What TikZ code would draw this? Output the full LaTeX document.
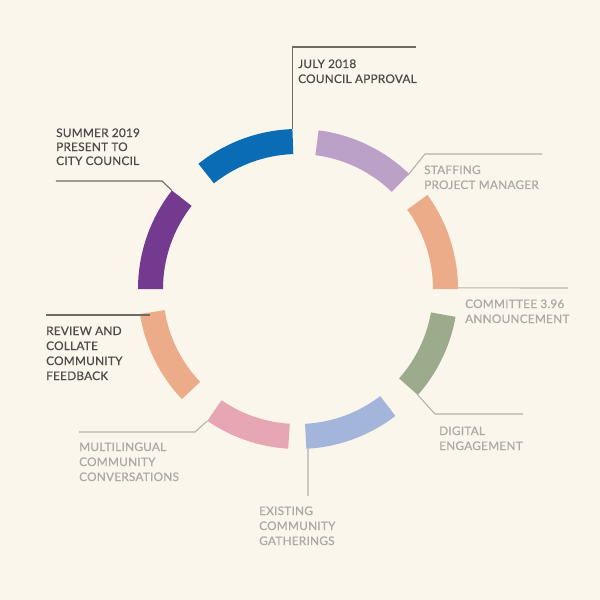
\documentclass[tikz,border=0pt]{standalone}
\usepackage{fontspec}
\setmainfont{Lato}[LetterSpace=2, FakeBold=0.6]
\usetikzlibrary{positioning}

\definecolor{bgcream}{HTML}{FAF6EC}
\definecolor{segBlue}{HTML}{0A6CB4}
\definecolor{segLilac}{HTML}{BBA0C7}
\definecolor{segOrange}{HTML}{ECAB89}
\definecolor{segGreen}{HTML}{9CAB8C}
\definecolor{segSky}{HTML}{A3B5DA}
\definecolor{segPink}{HTML}{E6A6B4}
\definecolor{segPurple}{HTML}{743A8F}
\definecolor{lineDark}{HTML}{6E6B64}
\definecolor{lineLight}{HTML}{B5B2AA}
\definecolor{textDark}{HTML}{4E4C48}
\definecolor{textLight}{HTML}{ACAAA4}

\tikzset{
  stage/.style={anchor=base west, inner sep=0pt, align=left,
    font=\fontsize{11.8}{15}\selectfont},
  done/.style={stage, text=textDark},
  todo/.style={stage, text=textLight},
  leaderDone/.style={draw=lineDark, line width=1.1pt},
  leaderTodo/.style={draw=lineLight, line width=1.1pt}
}

\begin{document}
\begin{tikzpicture}[x=1pt, y=1pt]
    % fondo
    \fill[bgcream] (-298,-311) rectangle (302,289);
    \useasboundingbox (-298,-311) rectangle (302,289);

    % segmentos
    \foreach \a/\b/\c in {46/82.6/segLilac, 92/128.5/segBlue, 142/180/segPurple,
                          189/223.5/segOrange, 235.5/266.5/segPink, 273/307.5/segSky,
                          318.5/350/segGreen, 0/36/segOrange}
      \fill[\c] (\a:160) arc[start angle=\a, end angle=\b, radius=160]
                -- (\b:135) arc[start angle=\b, end angle=\a, radius=135] -- cycle;

    % extremos
    \coordinate (july) at (92:160);
    \coordinate (staff) at (46:158);
    \coordinate (committee) at (0.4:160);
    \coordinate (digital) at (318.5:160);
    \coordinate (existing) at (273.6:160);
    \coordinate (multi) at (235.5:160);
    \coordinate (review) at (-148,-26);
    \coordinate (summer) at (142:160);

    % etiquetas (base de la ultima linea)
    \node [done] (julyText) at (0,206) {JULY 2018\\COUNCIL APPROVAL};
    \node [todo] (staffText) at (126,100) {STAFFING\\PROJECT MANAGER};
    \node [todo] (committeeText) at (167,-34) {COMMITTEE 3.96\\ANNOUNCEMENT};
    \node [todo] (digitalText) at (141,-161) {DIGITAL\\ENGAGEMENT};
    \node [todo] (existingText) at (-39,-256) {EXISTING\\COMMUNITY\\GATHERINGS};
    \node [todo] (multiText) at (-219,-192) {MULTILINGUAL\\COMMUNITY\\CONVERSATIONS};
    \node [done] (reviewText) at (-252,-91) {REVIEW AND\\COLLATE\\COMMUNITY\\FEEDBACK};
    \node [done, font=\fontsize{11.8}{14}\selectfont] (summerText) at (-242,124)
      {SUMMER 2019\\PRESENT TO\\CITY COUNCIL};

    % lineas
    \coordinate (julyTip) at (118,242);
    \coordinate (staffBend) at (127,135);
    \coordinate (staffTip) at (244,135);
    \coordinate (committeeTip) at (270,1);
    \coordinate (digitalBend) at (137,-125);
    \coordinate (digitalTip) at (225,-125);
    \coordinate (existingTip) at (10,-207);
    \coordinate (multiBend) at (-103,-143);
    \coordinate (multiTip) at (-219,-143);
    \coordinate (reviewTip) at (-252,-26);
    \coordinate (summerBend) at (-136,108);
    \coordinate (summerTip) at (-242,108);

    \draw[leaderDone] (july) |- (julyTip);
    \draw[leaderTodo] (staff) -- (staffBend) -- (staffTip);
    \draw[leaderTodo] (committee) -- (committeeTip);
    \draw[leaderTodo] (digital) -- (digitalBend) -- (digitalTip);
    \draw[leaderTodo] (existing) -- (existingTip);
    \draw[leaderTodo] (multi) -- (multiBend) -- (multiTip);
    \draw[leaderDone] (review) -- (reviewTip);
    \draw[leaderDone] (summer) -- (summerBend) -- (summerTip);
\end{tikzpicture}
\end{document}
